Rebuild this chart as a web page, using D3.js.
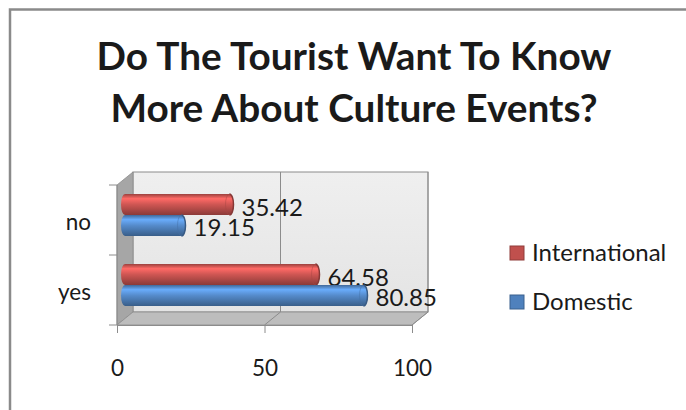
<!DOCTYPE html>
<html>
<head>
<meta charset="utf-8">
<script src="https://cdn.jsdelivr.net/npm/d3@7"></script>
<style>
  body { margin: 0; background: #fff; }
  text { font-family: Lato, "Open Sans", sans-serif; fill: #1a1a1a; }
</style>
</head>
<body>
<div id="chart"></div>
<script>
const categories = ["no", "yes"];
const seriesNames = ["International", "Domestic"];
const international = [35.42, 64.58];
const domestic = [19.15, 80.85];
const xTicks = [0, 50, 100];
const titleLines = ["Do The Tourist Want To Know", "More About Culture Events?"];

const W = 686, H = 410;
const colors = {International: "#c0504d", Domestic: "#4f81bd"};
const values = {International: international, Domestic: domestic};

// front plane of the 3d box and depth offset
const front = {left: 117, right: 412, top: 185, bottom: 325};
const depth = {dx: 16, dy: -13};
const barOff = {dx: 8, dy: -5};

const svg = d3.select("#chart").append("svg")
  .attr("width", W).attr("height", H);

// outer frame
svg.append("rect")
  .attr("x", 10).attr("y", 9.5).attr("width", W + 20).attr("height", H + 20)
  .attr("fill", "#fff").attr("stroke", "#8a8a8a").attr("stroke-width", 2.5);

// title, fitted to the width of the original
const title = svg.append("g");
titleLines.forEach((t, i) => {
  title.append("text")
    .attr("x", 354).attr("y", 70 + i * 52)
    .attr("text-anchor", "middle")
    .style("font-weight", "bold")
    .style("font-size", "38px")
    .text(t);
});
const t0 = title.select("text").node();
const fs = 38 * 515 / t0.getComputedTextLength();
title.selectAll("text").style("font-size", fs + "px");

const x = d3.scaleLinear().domain([0, 100]).range([front.left, front.right]);
const y = d3.scaleBand().domain(categories).range([front.top, front.bottom]);
const ySub = d3.scaleBand().domain(seriesNames).range([0, y.bandwidth()]).paddingOuter(0.667);

const defs = svg.append("defs");
function cylGrad(id, c) {
  const base = d3.color(c);
  const g = defs.append("linearGradient").attr("id", id)
    .attr("x1", 0).attr("y1", 0).attr("x2", 0).attr("y2", 1);
  g.append("stop").attr("offset", "0%").attr("stop-color", base.darker(0.6));
  g.append("stop").attr("offset", "22%").attr("stop-color", base.brighter(0.8));
  g.append("stop").attr("offset", "50%").attr("stop-color", base.brighter(0.2));
  g.append("stop").attr("offset", "100%").attr("stop-color", base.darker(0.9));
}
seriesNames.forEach(s => cylGrad("g-" + s, colors[s]));

const wallGrad = defs.append("linearGradient").attr("id", "wall")
  .attr("x1", 0).attr("y1", 0).attr("x2", 0).attr("y2", 1);
wallGrad.append("stop").attr("offset", "0%").attr("stop-color", "#efefef");
wallGrad.append("stop").attr("offset", "100%").attr("stop-color", "#e4e4e4");

const bx = v => x(v) + depth.dx;
const by = v => v + depth.dy;

// back wall
svg.append("rect")
  .attr("x", bx(0)).attr("y", by(front.top))
  .attr("width", bx(100) - bx(0)).attr("height", front.bottom - front.top)
  .attr("fill", "url(#wall)").attr("stroke", "#8c8c8c").attr("stroke-width", 1);

// left wall
svg.append("path")
  .attr("d", `M${x(0)},${front.top}L${bx(0)},${by(front.top)}L${bx(0)},${by(front.bottom)}L${x(0)},${front.bottom}Z`)
  .attr("fill", "#a6a6a6").attr("stroke", "#8c8c8c").attr("stroke-width", 0.8);

// floor
svg.append("path")
  .attr("d", `M${x(0)},${front.bottom}L${bx(0)},${by(front.bottom)}L${bx(100)},${by(front.bottom)}L${x(100)},${front.bottom}Z`)
  .attr("fill", "#bdbdbd").attr("stroke", "#8c8c8c").attr("stroke-width", 0.8);

// gridlines on back wall and floor
xTicks.filter(d => d > 0).forEach(d => {
  svg.append("path")
    .attr("d", `M${bx(d)},${by(front.top)}L${bx(d)},${by(front.bottom)}L${x(d)},${front.bottom}`)
    .attr("fill", "none").attr("stroke", "#8c8c8c").attr("stroke-width", 1);
});

// axes on the front plane
const xAxis = svg.append("g")
  .attr("transform", `translate(0,${front.bottom})`)
  .call(d3.axisBottom(x).tickValues(xTicks).tickSize(8).tickPadding(26));
xAxis.select(".domain").attr("stroke", "#8c8c8c");
xAxis.selectAll(".tick line").attr("stroke", "#8c8c8c");
xAxis.selectAll(".tick text").style("font-size", "22.5px").attr("fill", "#1a1a1a")
  .attr("dy", 0).attr("y", 51);

svg.append("line")
  .attr("x1", x(0)).attr("x2", x(0)).attr("y1", front.top).attr("y2", front.bottom)
  .attr("stroke", "#8c8c8c");
[front.top, ...categories.map(c => y(c) + y.bandwidth())].forEach(v => {
  svg.append("line")
    .attr("x1", x(0) - 8).attr("x2", x(0)).attr("y1", v).attr("y2", v)
    .attr("stroke", "#8c8c8c");
});

svg.selectAll(".cat").data(categories).join("text")
  .attr("class", "cat")
  .attr("x", 91)
  .attr("y", d => y(d) + y.bandwidth() / 2 + 10)
  .attr("text-anchor", "end")
  .style("font-size", "22.5px")
  .text(d => d);

// cylinder bars
const rx = 4;
const bars = [];
categories.forEach((c, i) => {
  seriesNames.forEach(s => {
    bars.push({cat: c, series: s, value: values[s][i]});
  });
});

const barG = svg.selectAll(".bar").data(bars).join("g").attr("class", "bar");
barG.each(function(d) {
  const g = d3.select(this);
  const h = ySub.bandwidth();
  const y0 = y(d.cat) + ySub(d.series) + barOff.dy;
  const x0 = x(0) + barOff.dx, x1 = x(d.value) + barOff.dx;
  const ry = h / 2;
  const base = d3.color(colors[d.series]);
  g.append("path")
    .attr("d", `M${x0},${y0}L${x1},${y0}A${rx},${ry} 0 0 1 ${x1},${y0 + h}L${x0},${y0 + h}A${rx},${ry} 0 0 1 ${x0},${y0}Z`)
    .attr("fill", `url(#g-${d.series})`);
  g.append("path")
    .attr("d", `M${x1},${y0}A${rx},${ry} 0 0 1 ${x1},${y0 + h}`)
    .attr("fill", "none").attr("stroke", base.darker(1)).attr("stroke-width", 1.5);
  g.append("path")
    .attr("d", `M${x1},${y0}A${rx},${ry} 0 0 0 ${x1},${y0 + h}`)
    .attr("fill", "none").attr("stroke", base.darker(0.4)).attr("stroke-width", 0.8).attr("opacity", 0.6);
  g.append("text")
    .attr("x", x1 + 12)
    .attr("y", y0 + ry + 11)
    .style("font-size", "24px")
    .text(d.value.toFixed(2));
});

// legend
const legend = svg.selectAll(".legend").data(seriesNames).join("g")
  .attr("class", "legend")
  .attr("transform", (d, i) => `translate(510,${246 + i * 49})`);
legend.append("rect")
  .attr("width", 14).attr("height", 14)
  .attr("fill", d => colors[d])
  .attr("stroke", d => d3.color(colors[d]).darker(0.8)).attr("stroke-width", 1);
legend.append("text")
  .attr("x", 22).attr("y", 15)
  .style("font-size", "24px")
  .text(d => d);
</script>
</body>
</html>
